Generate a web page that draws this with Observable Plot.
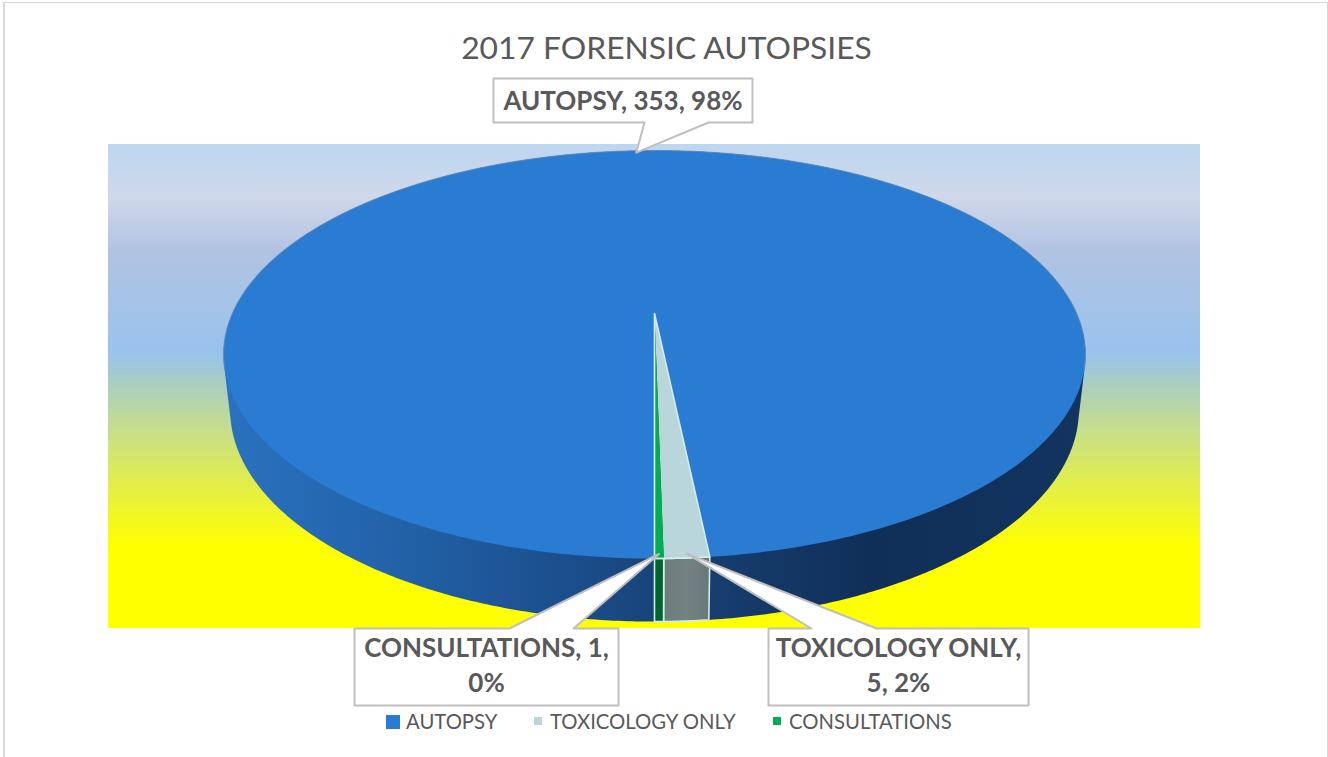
<!DOCTYPE html>
<html>
<head>
<meta charset="utf-8">
<script src="https://cdn.jsdelivr.net/npm/d3@7"></script>
<script src="https://cdn.jsdelivr.net/npm/@observablehq/plot@0.6"></script>
<style>
  html, body { margin: 0; background: #fff; }
  #page { position: relative; width: 1328px; height: 757px; overflow: hidden; font-family: Lato, sans-serif; color: #595959; }
  #frame { position: absolute; left: 3px; top: 2px; width: 1325px; height: 760px; border: 1px solid #d9d9d9; border-left-width: 2px; box-sizing: border-box; }
  #title { position: absolute; left: 0; width: 1333px; top: 24px; height: 46px; line-height: 46px; text-align: center; font-size: 31.8px; font-weight: 400; }
  #chart { position: absolute; left: 0; top: 76px; }
  #chart svg { display: block; background: transparent; }
  .sw { position: absolute; }
  .lg { position: absolute; top: 709px; line-height: 24px; font-size: 20.3px; white-space: nowrap; }
</style>
</head>
<body>
<div id="page">
  <div id="frame"></div>
  <div id="title"></div>
  <div id="chart"></div>
  <div id="legend"></div>
</div>
<script>
const chartTitle = "2017 FORENSIC AUTOPSIES";
const categories = ["AUTOPSY", "TOXICOLOGY ONLY", "CONSULTATIONS"];
const counts = [353, 5, 1];
const percents = ["98%", "2%", "0%"];
const calloutText = ["AUTOPSY, 353, 98%", "TOXICOLOGY ONLY,\n5, 2%", "CONSULTATIONS, 1,\n0%"];
const topColors = ["#2a7cd2", "#b9d6db", "#00ae50"];
const sideColors = ["url(#sideGrad)", "url(#greyGrad)", "#00642f"];

// Perspective of the disc, in page pixels
const cx = 654, apexY = 313, A = 422.2, B = 195.8, k = 0.201, H = 55, kb = 0.015;
const top3d = (t, r = 1) => { const u = r * Math.sin(t), v = r * Math.cos(t), w = 1 + k * v;
  return {x: cx + A * u / w, y: apexY - B * v / w}; };
const bot3d = t => { const u = Math.sin(t), v = Math.cos(t), w = 1 + k * v + kb;
  return {x: cx + A * u / w, y: apexY + (H - B * v) / w}; };
const range = (a, b, n = 240) => d3.range(n + 1).map(i => a + (b - a) * i / n);

// Slices run clockwise from the bottom of the disc
const arcs = d3.pie().sort(null).startAngle(Math.PI).endAngle(3 * Math.PI)(counts);
const apex = () => ({x: cx, y: apexY});
const topPoly = (s, i) => {
  const n = Math.max(8, Math.ceil((s.endAngle - s.startAngle) * 60));
  return [apex(), ...range(s.startAngle, s.endAngle, n).map(t => top3d(t))].map(p => ({...p, category: categories[i]}));
};
const sidePoly = (a, b, n) => [...range(a, b, n).map(t => top3d(t)), ...range(b, a, n).map(t => bot3d(t))];

const topsData = arcs.flatMap(topPoly);
const [autopsyArc, toxArc, consArc] = arcs;
// The wall is the silhouette of the two rims
const rimAngles = range(0, 2 * Math.PI, 720);
const wall = d3.polygonHull([...rimAngles.map(t => top3d(t)), ...rimAngles.map(t => bot3d(t))].map(p => [p.x, p.y])).map(([x, y]) => ({x, y}));
const toxSide = sidePoly(toxArc.startAngle, toxArc.endAngle, 12);
const consSide = sidePoly(consArc.startAngle, consArc.endAngle, 6);
const wedgeOutline = [apex(), ...range(toxArc.startAngle, consArc.endAngle, 16).map(t => top3d(t))];
const backRim = range(-1.85, 1.85, 240).map(t => top3d(t));

const midAngle = s => (s.startAngle + s.endAngle) / 2;

// Callout boxes, page pixels
const boxes = [
  {x0: 493, y0: 78, x1: 752, y1: 122, foot: [708, 644], edge: "bottom", arc: autopsyArc, i: 0, dy: -2},
  {x0: 768, y0: 628, x1: 1028, y1: 705, foot: [811, 876], edge: "top", arc: toxArc, i: 1, dy: -4},
  {x0: 354, y0: 628, x1: 618, y1: 705, foot: [509, 573], edge: "top", arc: consArc, i: 2, dy: -4}
];
const calloutPoly = b => {
  const t = top3d(midAngle(b.arc), 0.985);
  const pts = b.edge === "bottom"
    ? [[b.x0, b.y0], [b.x1, b.y0], [b.x1, b.y1], [b.foot[0], b.y1], [t.x, t.y], [b.foot[1], b.y1], [b.x0, b.y1]]
    : [[b.x0, b.y0], [b.foot[0], b.y0], [t.x, t.y], [b.foot[1], b.y0], [b.x1, b.y0], [b.x1, b.y1], [b.x0, b.y1]];
  return pts.map(([x, y]) => ({x, y}));
};

const defs = () => {
  const svg = d3.create("svg:g");
  const d = svg.append("defs");
  const lin = (id, attrs, stops) => {
    const g = d.append("linearGradient").attr("id", id).attr("gradientUnits", "userSpaceOnUse");
    for (const [k2, v] of Object.entries(attrs)) g.attr(k2, v);
    stops.forEach(([o, c]) => g.append("stop").attr("offset", o).attr("stop-color", c));
  };
  lin("bgGrad", {x1: 0, x2: 0, y1: 144 - 76, y2: 628 - 76}, [
    [0, "#bdd6f0"], [0.11, "#cfd8ea"], [0.22, "#b2c3e2"], [0.43, "#99c3ec"], [0.49, "#a9cdc5"],
    [0.595, "#c7df88"], [0.73, "#e8f23a"], [0.83, "#ffff00"], [1, "#ffff00"]
  ]);
  lin("sideGrad", {x1: 223, x2: 1085, y1: 0, y2: 0}, [
    [0, "#2a72bf"], [0.2, "#2262a8"], [0.4, "#1b4e8c"], [0.55, "#173f70"], [0.75, "#102f58"], [1, "#12345e"]
  ]);
  lin("greyGrad", {x1: 662, x2: 709, y1: 0, y2: 0}, [[0, "#6a7b7a"], [0.5, "#738381"], [1, "#68797a"]]);
  return svg.node();
};

const poly = (pts, o) => Plot.line(pts, {x: "x", y: "y", curve: "linear-closed", ...o});

document.getElementById("title").textContent = chartTitle;

const plot = Plot.plot({
  width: 1328, height: 632, margin: 0,
  style: {background: "transparent"},
  x: {domain: [0, 1328], range: [0, 1328], axis: null},
  y: {domain: [76, 708], range: [0, 632], axis: null},
  color: {domain: categories, range: topColors},
  marks: [
    defs,
    Plot.rect([{x1: 108, x2: 1200, y1: 144, y2: 628}], {x1: "x1", x2: "x2", y1: "y1", y2: "y2", fill: "url(#bgGrad)"}),
    poly(wall, {fill: sideColors[0]}),
    poly(topsData, {z: "category", fill: "category"}),
    Plot.line(backRim, {x: "x", y: "y", stroke: "#6f8fb5", strokeWidth: 0.8}),
    poly(toxSide, {fill: sideColors[1], stroke: "#d3ecef", strokeWidth: 1.6}),
    poly(consSide, {fill: sideColors[2], stroke: "#d3ecef", strokeWidth: 1.6}),
    poly(wedgeOutline, {fill: "none", stroke: "#d3ecef", strokeWidth: 1.6}),
    ...boxes.map(b => poly(calloutPoly(b), {fill: "#fff", stroke: "#bfbfbf", strokeWidth: 2})),
    Plot.text(boxes, {
      x: b => (b.x0 + b.x1) / 2, y: b => (b.y0 + b.y1) / 2 + b.dy,
      text: b => calloutText[b.i], fontFamily: "Lato, sans-serif", fontWeight: 700, fontSize: 26,
      lineHeight: 1.35, fill: "#595959", textAnchor: "middle"
    })
  ]
});
document.getElementById("chart").appendChild(plot);

// Legend
const legend = document.getElementById("legend");
const swatches = [
  {x: 386, y: 715, s: 14, tx: 406},
  {x: 534, y: 717, s: 8, tx: 550},
  {x: 773, y: 717, s: 8, tx: 789}
];
categories.forEach((c, i) => {
  const s = swatches[i];
  const sw = document.createElement("div"); sw.className = "sw";
  sw.style.cssText = `left:${s.x}px;top:${s.y}px;width:${s.s}px;height:${s.s}px;background:${topColors[i]}`;
  const t = document.createElement("div"); t.className = "lg"; t.style.left = s.tx + "px"; t.textContent = c;
  legend.append(sw, t);
});
</script>
</body>
</html>
